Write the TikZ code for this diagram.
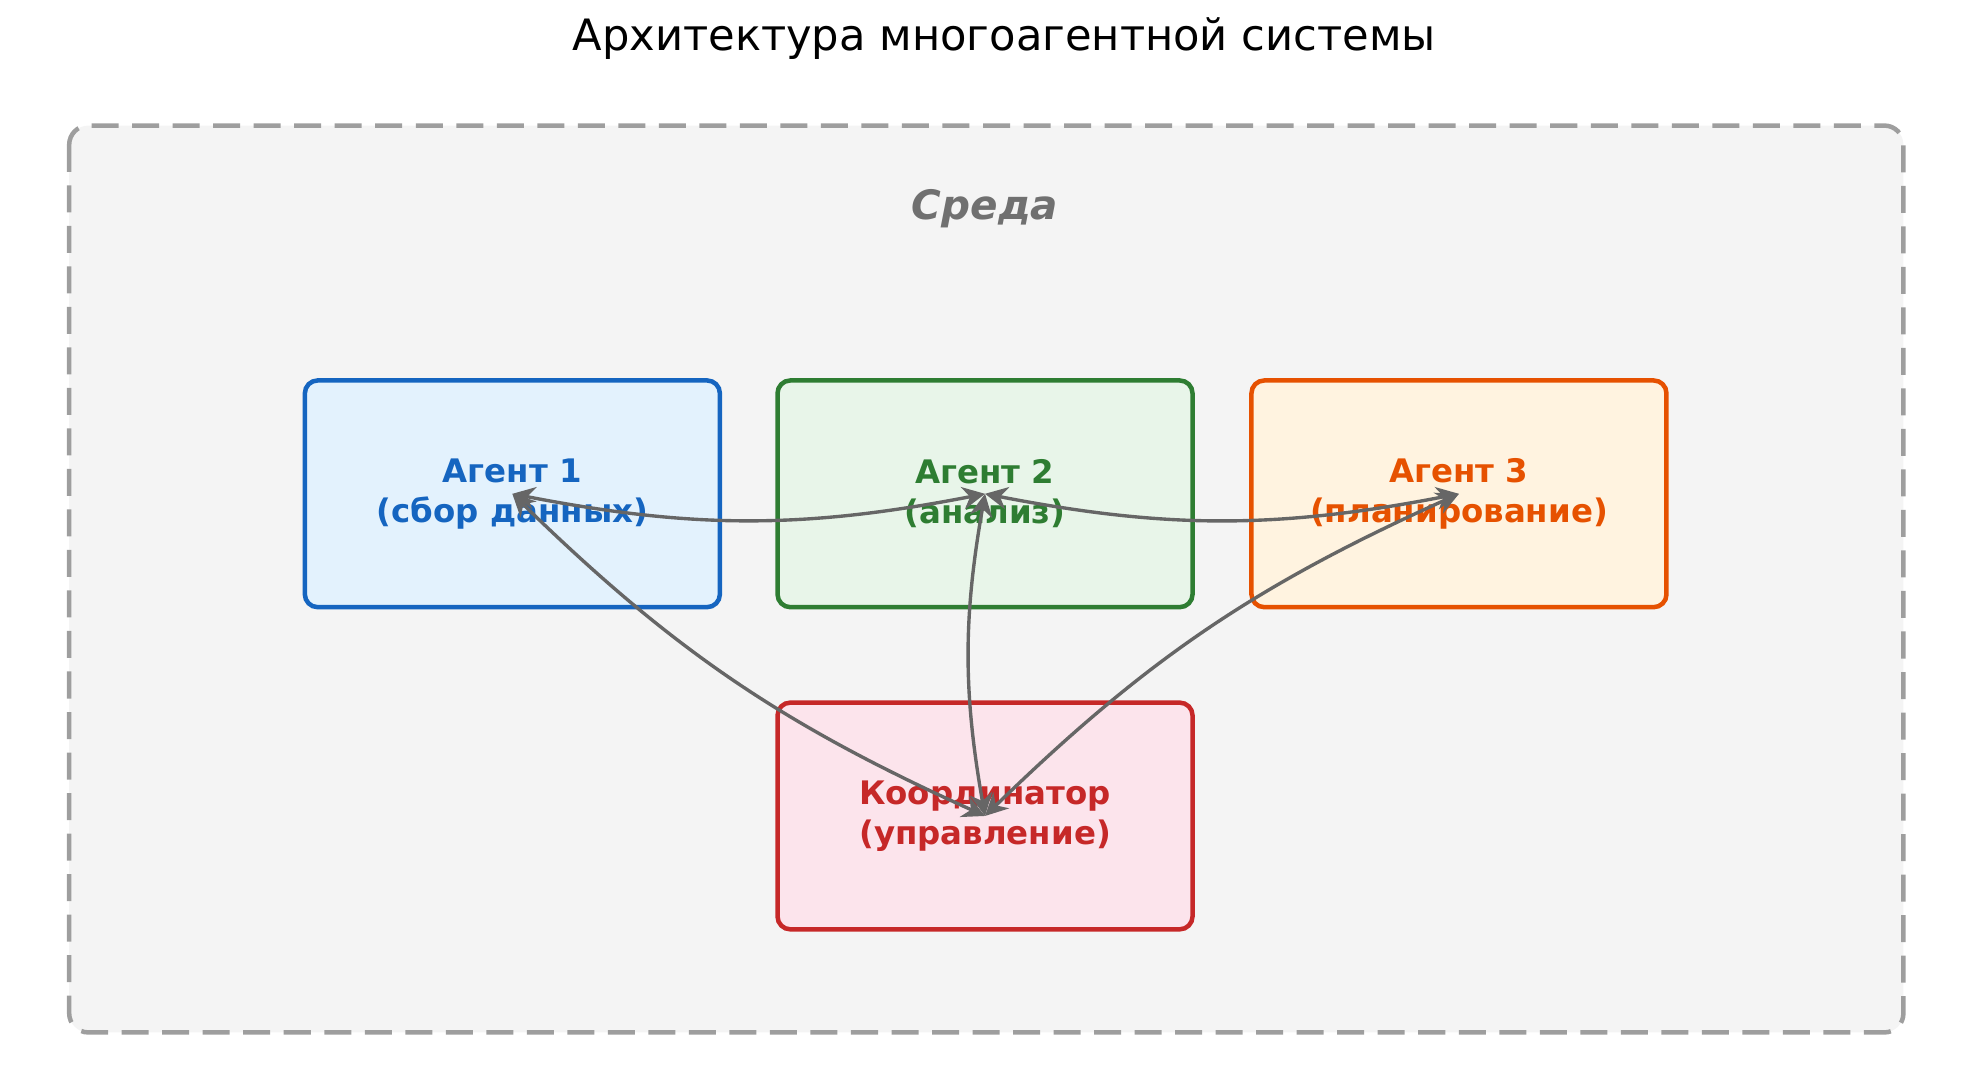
\documentclass[tikz,border=0pt]{standalone}
\usepackage{fontspec}
\setmainfont{DejaVu Sans}
\usetikzlibrary{arrows.meta}
\definecolor{envfill}{HTML}{F4F4F4}
\definecolor{envline}{HTML}{9E9E9E}
\definecolor{bluel}{HTML}{1565C0}\definecolor{bluef}{HTML}{E3F2FD}
\definecolor{greenl}{HTML}{2E7D32}\definecolor{greenf}{HTML}{E8F5E9}
\definecolor{orangel}{HTML}{E65100}\definecolor{orangef}{HTML}{FFF3E0}
\definecolor{redl}{HTML}{C62828}\definecolor{redf}{HTML}{FCE4EC}
\definecolor{linkc}{HTML}{666666}
\begin{document}
\begin{tikzpicture}[
		agent/.style={rectangle, rounded corners=0.1cm, line width=1pt, minimum width=3.24cm, minimum height=1.77cm, align=center, font=\fontsize{7.2}{8.8}\selectfont\bfseries},
		link/.style={draw=linkc, line width=0.75pt, {Stealth[length=5pt,width=5pt]}-{Stealth[length=5pt,width=5pt]}}
	]
  \useasboundingbox (0,0) rectangle (15.45,-8.33);
  \node (title) at (7.84,-0.3) {\fontsize{9.6}{11}\selectfont Архитектура многоагентной системы};
  \draw[envline, fill=envfill, dashed, dash pattern=on 6pt off 3pt, line width=1pt, rounded corners=0.15cm] (0.54,-0.98) rectangle (14.86,-8.06);
  \node (env) [text=black!56, font=\fontsize{9}{11}\selectfont\bfseries\itshape] at (7.69,-1.63) {Среда};
  \node (a1) [agent, draw=bluel, fill=bluef, text=bluel] at (4.00,-3.855) {Агент 1\\(сбор данных)};
  \node (a2) [agent, draw=greenl, fill=greenf, text=greenl] at (7.69,-3.855) {Агент 2\\(анализ)};
  \node (a3) [agent, draw=orangel, fill=orangef, text=orangel] at (11.39,-3.855) {Агент 3\\(планирование)};
  \node (coord) [agent, draw=redl, fill=redf, text=redl] at (7.69,-6.37) {Координатор\\(управление)};
  \draw[link] (a1.center) to[bend right=11] (a2.center);
  \draw[link] (a2.center) to[bend right=11] (a3.center);
  \draw[link] (a1.center) to[bend right=10] (coord.center);
  \draw[link] (a2.center) to[bend right=10] (coord.center);
  \draw[link] (coord.center) to[bend left=10] (a3.center);
\end{tikzpicture}
\end{document}
